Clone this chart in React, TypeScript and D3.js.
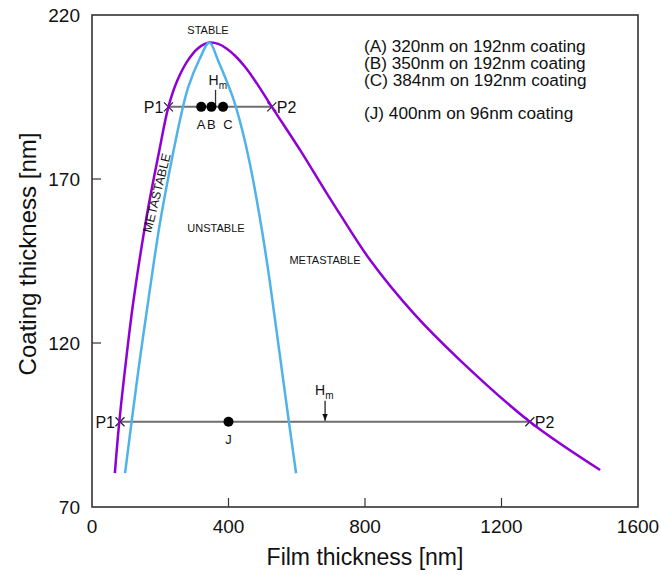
import React from "react";
import * as d3 from "d3";

// Stability boundaries: film thickness [nm] vs coating thickness [nm]
const outerX = [67, 80, 101, 121, 160, 195, 224, 250, 280, 310, 344, 370, 394, 420, 450, 482, 527, 610, 688, 727, 815, 942, 1078, 1283, 1489];
const outerY = [80.3, 96, 115.8, 132.5, 158.5, 177.5, 192, 200, 206, 209.8, 211.6, 211.2, 209.8, 207.5, 204, 199.3, 192, 178.8, 165.6, 159.2, 145.3, 129.1, 114.8, 96, 81.3];

const innerX = [97, 116, 141, 165, 199, 233, 260, 282, 315, 344, 370, 394, 414, 440, 463, 497, 520, 545, 577, 598];
const innerY = [80.3, 96, 115.5, 133, 156.5, 175.5, 189, 198, 206.5, 211.6, 206, 200, 194.5, 185, 174.5, 155, 139.5, 120.5, 96, 80.3];

// Sample points
const sampleNames = ["A", "B", "C", "J"];
const sampleFilm = [320, 350, 384, 400];
const sampleCoating = [192, 192, 192, 96];

// Tie lines between P1 and P2
const tieCoating = [192, 96];
const tieP1 = [224, 82];
const tieP2 = [527, 1283];
const tieHm = [362, 683];

const xTicks = [0, 400, 800, 1200, 1600];
const yTicks = [70, 120, 170, 220];

const legendLines = [
  "(A) 320nm on 192nm coating",
  "(B) 350nm on 192nm coating",
  "(C) 384nm on 192nm coating",
  "",
  "(J) 400nm on 96nm coating",
];

const W = 661;
const H = 574;
const FONT = "'Liberation Sans', Arial, Helvetica, sans-serif";

export default function App() {
  const x = d3.scaleLinear().domain([0, 1600]).range([92, 638]);
  const y = d3.scaleLinear().domain([70, 220]).range([507, 15]);

  const line = d3
    .line<[number, number]>()
    .x((d) => x(d[0]))
    .y((d) => y(d[1]))
    .curve(d3.curveCatmullRom.alpha(0.5));

  const outer = outerX.map((v, i) => [v, outerY[i]] as [number, number]);
  const inner = innerX.map((v, i) => [v, innerY[i]] as [number, number]);

  const cross = (cx: number, cy: number, s = 4.5) =>
    `M${cx - s},${cy - s}L${cx + s},${cy + s}M${cx - s},${cy + s}L${cx + s},${cy - s}`;

  return (
    <svg width={W} height={H} style={{ position: "absolute", left: 0, top: 0, background: "#fff" }} fontFamily={FONT}>
      <defs>
        <marker id="arrowHead" viewBox="0 0 10 10" refX="10" refY="5" markerWidth="6" markerHeight="6" orient="auto">
          <path d="M0,1L10,5L0,9Z" fill="#111" />
        </marker>
      </defs>

      {/* tie lines */}
      {tieCoating.map((c, i) => (
        <g key={"tie" + i}>
          <line x1={x(tieP1[i])} x2={x(tieP2[i])} y1={y(c)} y2={y(c)} stroke="#6e6e6e" strokeWidth={2} />
          <path d={cross(x(tieP1[i]), y(c))} stroke="#222" strokeWidth={1.2} fill="none" />
          <path d={cross(x(tieP2[i]), y(c))} stroke="#222" strokeWidth={1.2} fill="none" />
          <text x={x(tieP1[i]) - 5} y={y(c) + 6} fontSize={16} textAnchor="end" fill="#111">P1</text>
          <text x={x(tieP2[i]) + 5} y={y(c) + 6} fontSize={16} textAnchor="start" fill="#111">P2</text>
        </g>
      ))}

      {/* curves */}
      <path d={line(outer) || ""} fill="none" stroke="#8f00d6" strokeWidth={2.5} />
      <path d={line(inner) || ""} fill="none" stroke="#4fb2e8" strokeWidth={2.5} />

      {/* Hm markers */}
      <line x1={x(tieHm[0])} x2={x(tieHm[0])} y1={y(tieCoating[0]) - 17} y2={y(tieCoating[0])} stroke="#333" strokeWidth={1.3} />
      <text x={x(tieHm[0]) - 7} y={y(tieCoating[0]) - 22} fontSize={14} fill="#111">
        H<tspan fontSize={10} dy={4}>m</tspan>
      </text>
      <line x1={x(tieHm[1])} x2={x(tieHm[1])} y1={y(tieCoating[1]) - 21} y2={y(tieCoating[1]) - 1} stroke="#111" strokeWidth={1.2} markerEnd="url(#arrowHead)" />
      <text x={x(tieHm[1]) - 10} y={y(tieCoating[1]) - 27} fontSize={14} fill="#111">
        H<tspan fontSize={10} dy={4}>m</tspan>
      </text>

      {/* samples */}
      {sampleNames.map((n, i) => (
        <g key={n}>
          <circle cx={x(sampleFilm[i])} cy={y(sampleCoating[i])} r={5} fill="#000" />
          <text x={x(sampleFilm[i]) + (n === "C" ? 5 : 0)} y={y(sampleCoating[i]) + 22} fontSize={13} textAnchor="middle" fill="#111">{n}</text>
        </g>
      ))}

      {/* region labels */}
      <text x={208} y={34} fontSize={11} textAnchor="middle" fill="#111">STABLE</text>
      <text x={216} y={232} fontSize={11} textAnchor="middle" fill="#111">UNSTABLE</text>
      <text x={325} y={264} fontSize={11} textAnchor="middle" fill="#111">METASTABLE</text>
      <text transform="translate(157,193) rotate(-76)" x={0} y={4} fontSize={12.5} textAnchor="middle" fill="#111">METASTABLE</text>

      {/* legend */}
      {legendLines.map((t, i) => (
        <text key={i} x={364} y={52 + i * 16.8} fontSize={17.2} fill="#111">{t}</text>
      ))}

      {/* frame and ticks */}
      <rect x={92} y={15} width={546} height={492} fill="none" stroke="#333" strokeWidth={1.6} />
      {xTicks.slice(1, -1).map((t) => (
        <line key={"xt" + t} x1={x(t)} x2={x(t)} y1={507} y2={498} stroke="#333" strokeWidth={1.2} />
      ))}
      {yTicks.slice(1, -1).map((t) => (
        <line key={"yt" + t} x1={92} x2={101} y1={y(t)} y2={y(t)} stroke="#333" strokeWidth={1.2} />
      ))}
      {xTicks.map((t) => (
        <text key={"xl" + t} x={x(t)} y={533} fontSize={19} textAnchor="middle" fill="#111">{t}</text>
      ))}
      {yTicks.map((t) => (
        <text key={"yl" + t} x={80} y={y(t) + 7} fontSize={19} textAnchor="end" fill="#111">{t}</text>
      ))}

      {/* axis titles */}
      <text x={365} y={565} fontSize={23} textAnchor="middle" fill="#111">Film thickness [nm]</text>
      <text transform="translate(36,254) rotate(-90)" x={0} y={0} fontSize={24} textAnchor="middle" fill="#111">Coating thickness [nm]</text>
    </svg>
  );
}
